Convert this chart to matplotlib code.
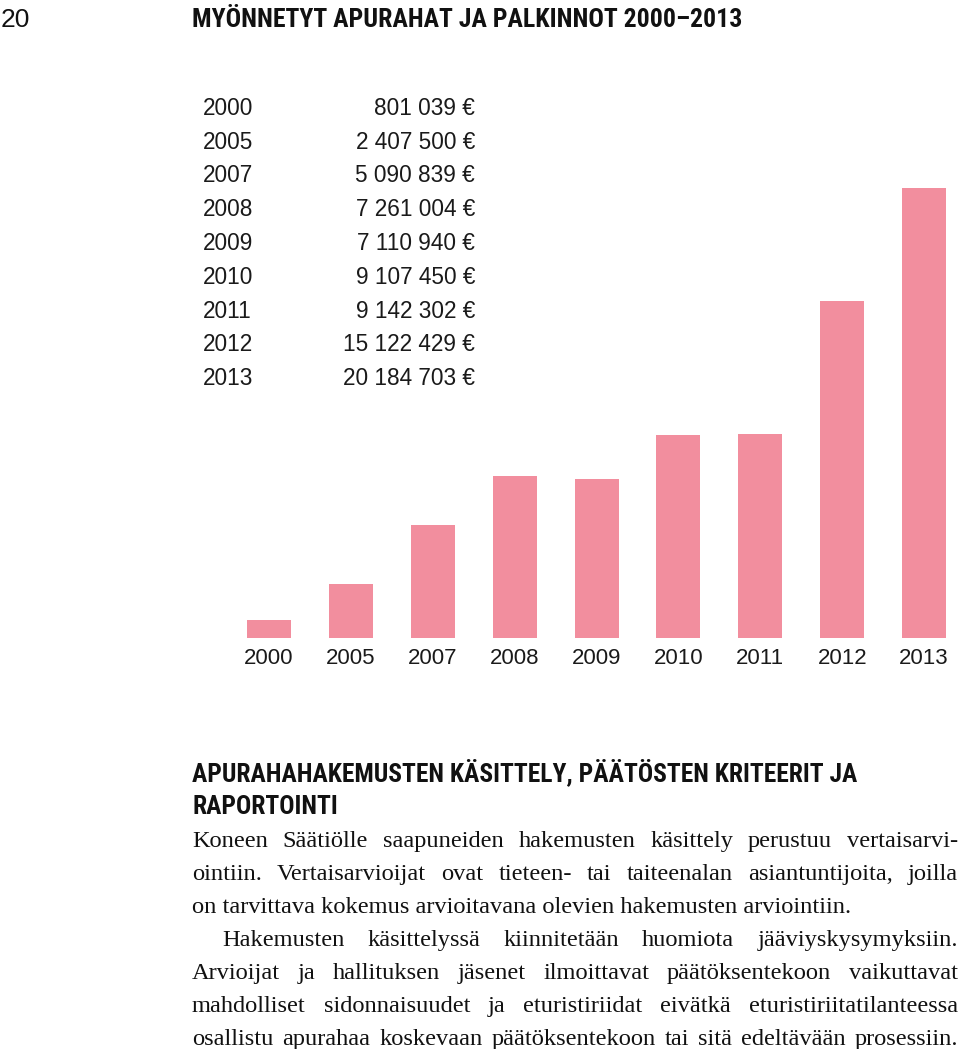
import matplotlib
matplotlib.use("Agg")
import matplotlib.pyplot as plt
from matplotlib import font_manager as fm
from matplotlib.font_manager import FontProperties

# ---------------- data ----------------
years = ["2000", "2005", "2007", "2008", "2009", "2010", "2011", "2012", "2013"]
amounts = [801039, 2407500, 5090839, 7261004, 7110940, 9107450, 9142302, 15122429, 20184703]

page_number = "20"
title = "MYÖNNETYT APURAHAT JA PALKINNOT 2000–2013"
heading_lines = ["APURAHAHAKEMUSTEN KÄSITTELY, PÄÄTÖSTEN KRITEERIT JA", "RAPORTOINTI"]
para1_lines = [
    "Koneen Säätiölle saapuneiden hakemusten käsittely perustuu vertaisarvi-",
    "ointiin. Vertaisarvioijat ovat tieteen- tai taiteenalan asiantuntijoita, joilla",
    "on tarvittava kokemus arvioitavana olevien hakemusten arviointiin.",
]
para2_lines = [
    "Hakemusten käsittelyssä kiinnitetään huomiota jääviyskysymyksiin.",
    "Arvioijat ja hallituksen jäsenet ilmoittavat päätöksentekoon vaikuttavat",
    "mahdolliset sidonnaisuudet ja eturistiriidat eivätkä eturistiriitatilanteessa",
    "osallistu apurahaa koskevaan päätöksentekoon tai sitä edeltävään prosessiin.",
]

BAR_COLOR = "#F28E9E"
W, H = 960, 1049

fig = plt.figure(figsize=(W / 100, H / 100), dpi=100)
renderer = fig.canvas.get_renderer()

names = {f.name for f in fm.fontManager.ttflist}

def pick(cands, default="DejaVu Sans"):
    for c in cands:
        if c in names:
            return c
    return default

sans = pick(["Liberation Sans", "Arimo", "Open Sans"])
serif = pick(["Liberation Serif", "DejaVu Serif"])
narrow = pick(["Liberation Sans Narrow", "Roboto Condensed", "Open Sans Condensed", "DejaVu Sans"])
narrow_stretch = "condensed" if narrow == "DejaVu Sans" else "normal"

def fx(x):
    return x / W

def fy(y):
    return 1 - y / H

def width_px(s, fp):
    t = fig.text(0, 0, s, fontproperties=fp)
    w = t.get_window_extent(renderer).width
    t.remove()
    return w

def fitted_props(s, family, weight, target_w, stretch="normal", base=20.0):
    fp = FontProperties(family=family, weight=weight, stretch=stretch, size=base)
    w = width_px(s, fp)
    fp.set_size(base * target_w / w)
    return fp

# ---------------- page number and title ----------------
fig.text(fx(1), fy(27), page_number, fontproperties=FontProperties(family=sans, size=19),
         color="#111111", ha="left", va="baseline")
tp = fitted_props(title, narrow, "bold", 550, narrow_stretch)
fig.text(fx(192), fy(27), title, fontproperties=tp, color="#111111", ha="left", va="baseline")

# ---------------- table ----------------
table_fp = FontProperties(family=sans, size=16.3)
row0, row_step = 115, 33.75
for i, (yr, amt) in enumerate(zip(years, amounts)):
    yb = row0 + i * row_step
    fig.text(fx(203), fy(yb), yr, fontproperties=table_fp, color="#1a1a1a",
             ha="left", va="baseline")
    val = f"{amt:,}".replace(",", " ") + " €"
    fig.text(fx(475), fy(yb), val, fontproperties=table_fp, color="#1a1a1a",
             ha="right", va="baseline")

# ---------------- bar chart ----------------
base_px, top_px = 638, 188          # baseline and top of tallest bar (px from top)
ax_top_px = 100
ax_left_px, ax_right_px = 228, 951
step_px = 81.9
ax = fig.add_axes([fx(ax_left_px), fy(base_px), (ax_right_px - ax_left_px) / W,
                   (base_px - ax_top_px) / H])
x = list(range(len(years)))
ax.bar(x, amounts, width=44 / step_px, color=BAR_COLOR, linewidth=0)
ax.set_xlim(-0.5, -0.5 + (ax_right_px - ax_left_px) / step_px)
ax.set_ylim(0, max(amounts) * (base_px - ax_top_px) / (base_px - top_px))
ax.set_xticks(x)
ax.set_xticklabels(years, fontproperties=FontProperties(family=sans, size=16), color="#1a1a1a")
ax.tick_params(axis="x", length=0, pad=7)
ax.set_yticks([])
for s in ax.spines.values():
    s.set_visible(False)
ax.patch.set_alpha(0)

# ---------------- heading ----------------
hp = fitted_props(heading_lines[0], narrow, "bold", 666, narrow_stretch)
fig.text(fx(192), fy(781), heading_lines[0], fontproperties=hp, color="#111111",
         ha="left", va="baseline")
fig.text(fx(192), fy(814), heading_lines[1], fontproperties=hp, color="#111111",
         ha="left", va="baseline")

# ---------------- body text (justified) ----------------
left_px, right_px = 192, 958
all_lines = [(l, left_px) for l in para1_lines] + [(l, left_px + 30 if i == 0 else left_px)
                                                  for i, l in enumerate(para2_lines)]
body_size = 20.0
bp = FontProperties(family=serif, size=body_size)
# shrink until all lines fit with normal word spacing
while True:
    ok = True
    for line, lx in all_lines:
        if width_px(line, bp) > (right_px - lx) * 0.975:
            ok = False
            break
    if ok:
        break
    body_size -= 0.1
    bp.set_size(body_size)

def draw_line(line, lx, yb, justify):
    words = line.split(" ")
    if not justify or len(words) == 1:
        fig.text(fx(lx), fy(yb), line, fontproperties=bp, color="#111111",
                 ha="left", va="baseline")
        return
    widths = [width_px(w, bp) for w in words]
    gap = (right_px - lx - sum(widths)) / (len(words) - 1)
    xx = lx
    for w, wd in zip(words, widths):
        fig.text(fx(xx), fy(yb), w, fontproperties=bp, color="#111111",
                 ha="left", va="baseline")
        xx += wd + gap

line0, line_step = 847, 33.0
k = 0
for i, line in enumerate(para1_lines):
    draw_line(line, left_px, line0 + k * line_step, justify=(i < len(para1_lines) - 1))
    k += 1
for i, line in enumerate(para2_lines):
    draw_line(line, left_px + 30 if i == 0 else left_px, line0 + k * line_step, justify=True)
    k += 1

fig.savefig("out.png", dpi=100)
